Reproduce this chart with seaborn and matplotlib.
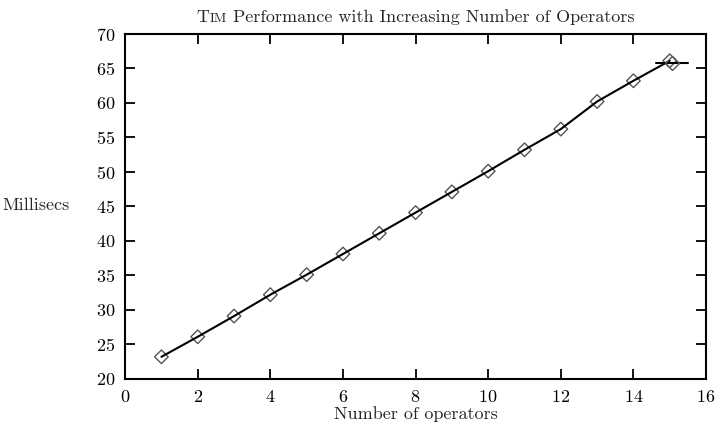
"""TIM performance chart, gnuplot look."""
import matplotlib
matplotlib.use("Agg")
import matplotlib.pyplot as plt
import seaborn as sns
import pandas as pd
from matplotlib.lines import Line2D
from matplotlib.offsetbox import TextArea, HPacker, AnchoredOffsetbox

# data
operators = [1, 2, 3, 4, 5, 6, 7, 8, 9, 10, 11, 12, 13, 14, 15]
millisecs = [23.2, 26.1, 29.1, 32.2, 35.1, 38.1, 41.1, 44.1, 47.1, 50.1, 53.2, 56.2, 60.2, 63.2, 66.1]
x_ticks = [0, 2, 4, 6, 8, 10, 12, 14, 16]
y_ticks = [20, 25, 30, 35, 40, 45, 50, 55, 60, 65, 70]

df = pd.DataFrame({"ops": operators, "ms": millisecs})

sns.set_style("ticks", {"xtick.direction": "in", "ytick.direction": "in"})
plt.rcParams["font.family"] = ["cmr10", "DejaVu Serif"]
plt.rcParams["axes.formatter.use_mathtext"] = True

FS = 13

fig = plt.figure(figsize=(7.19, 4.34), dpi=100)
ax = fig.add_axes([0.174, 0.127, 0.808, 0.795])

# markers first, line on top
sns.scatterplot(data=df, x="ops", y="ms", ax=ax, marker="D", s=48,
                facecolor="none", edgecolor="#555555", linewidth=1.0, zorder=2)
sns.lineplot(data=df, x="ops", y="ms", ax=ax, color="black", linewidth=1.5, zorder=3)

ax.set_xlim(0, 16)
ax.set_ylim(20, 70)
ax.set_xticks(x_ticks)
ax.set_yticks(y_ticks)
ax.tick_params(axis="both", which="major", length=7, width=1.3, labelsize=FS,
               colors="black", pad=7, top=True, right=True)
for sp in ax.spines.values():
    sp.set_linewidth(1.5)
    sp.set_color("black")

ax.set_xlabel("Number of operators", fontsize=FS, labelpad=1)
ax.set_ylabel("Millisecs", fontsize=FS, rotation=0, labelpad=0)
ax.yaxis.set_label_coords(-0.153, 0.48)

# gnuplot style key: sample line with symbol, no label
h = Line2D([], [], color="black", linewidth=1.5, marker="D", markersize=6.8,
           markerfacecolor="none", markeredgecolor="#555555")
ax.legend(handles=[h], labels=[""], loc="center", bbox_to_anchor=(15.07, 65.6),
          bbox_transform=ax.transData, frameon=False, handlelength=1.75,
          handletextpad=0, borderpad=0, borderaxespad=0, fontsize=FS)

# title with small caps "Tim"
parts = [TextArea("T", textprops=dict(size=FS, family=["cmr10"])),
         TextArea("IM", textprops=dict(size=FS * 0.75, family=["cmr10"])),
         TextArea(" Performance with Increasing Number of Operators",
                  textprops=dict(size=FS, family=["cmr10"]))]
box = HPacker(children=parts, align="baseline", pad=0, sep=0)
anch = AnchoredOffsetbox(loc="lower center", child=box, frameon=False, pad=0,
                         bbox_to_anchor=(0.5, 1.025), bbox_transform=ax.transAxes,
                         borderpad=0)
ax.add_artist(anch)

fig.savefig("out.png", dpi=100)
